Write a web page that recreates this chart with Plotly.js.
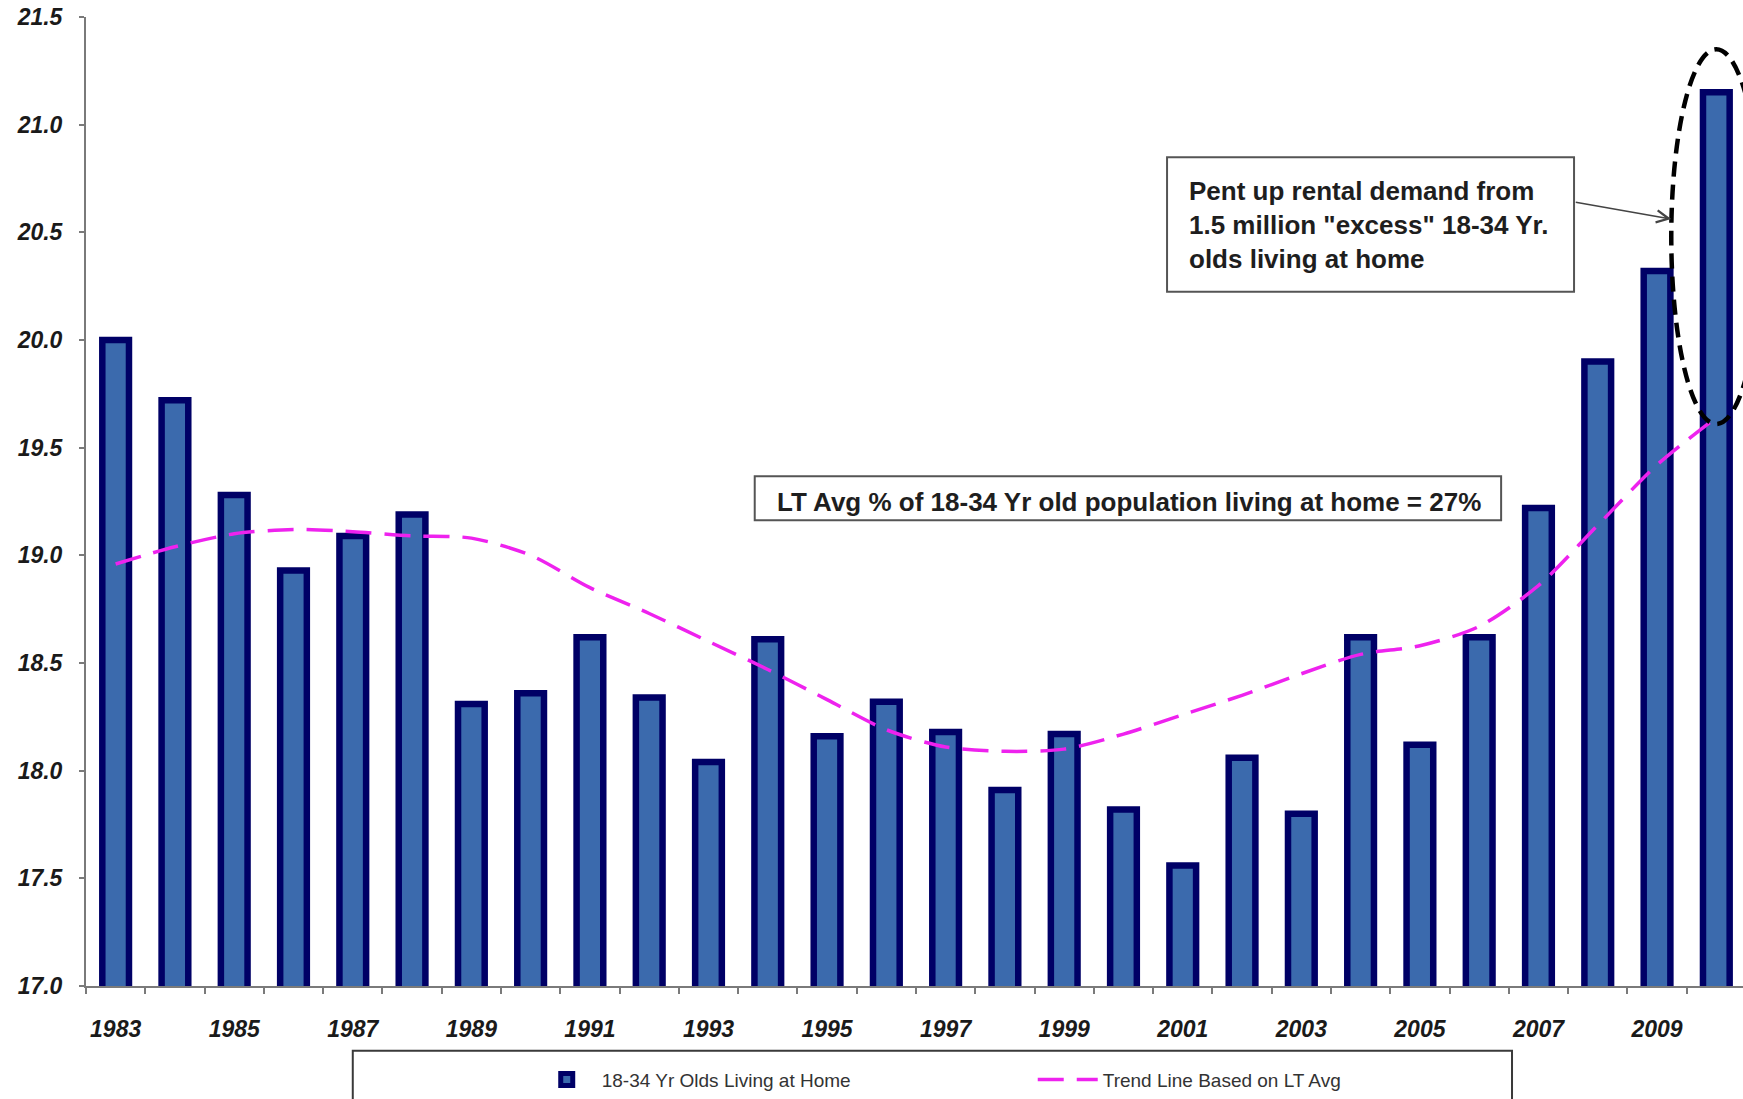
<!DOCTYPE html>
<html>
<head>
<meta charset="utf-8">
<script src="https://cdn.plot.ly/plotly-3.0.1.min.js"></script>
<style>html,body{margin:0;padding:0;background:#ffffff;}</style>
</head>
<body>
<div id="chart" style="width:1743px;height:1099px;"></div>
<script>
// ---- data ----
const years = [1983,1984,1985,1986,1987,1988,1989,1990,1991,1992,1993,1994,1995,1996,
               1997,1998,1999,2000,2001,2002,2003,2004,2005,2006,2007,2008,2009,2010];
const livingAtHome = [20.00,19.72,19.28,18.93,19.09,19.19,18.31,18.36,18.62,18.34,18.04,18.61,18.16,18.32,
                      18.18,17.91,18.17,17.82,17.56,18.06,17.80,18.62,18.12,18.62,19.22,19.90,20.32,21.15];
const trendLine = [18.96,19.04,19.10,19.12,19.11,19.09,19.08,19.00,18.85,18.73,18.60,18.47,18.33,18.19,
                   18.11,18.09,18.10,18.17,18.26,18.35,18.45,18.54,18.58,18.67,18.86,19.14,19.42,19.64];
const tickYears = years.filter(y => y % 2 === 1);
const tickLabels = tickYears.map(String);
const yTicks = [17.0,17.5,18.0,18.5,19.0,19.5,20.0,20.5,21.0,21.5];
const barName = "18-34 Yr Olds Living at Home";
const trendName = "Trend Line Based on LT Avg";
const noteText = "Pent up rental demand from<br>1.5 million \"excess\" 18-34 Yr.<br>olds living at home";
const avgText = "LT Avg % of 18-34 Yr old population living at home = 27%";

const boundaries = years.map(y => y - 0.5).concat([years[years.length-1] + 0.5]);

const axisFont = {family: "Liberation Sans, Arial, sans-serif", size: 23, color: "#1a1a1a", weight: "bold", style: "italic"};
const noteFont = {family: "Liberation Sans, Arial, sans-serif", size: 26, color: "#1e1e1e", weight: "bold"};

const traces = [
  {
    type: "bar", x: years, y: livingAtHome, name: barName,
    width: 0.45,
    marker: {color: "#3b6aad", line: {color: "#000066", width: 6.5}},
    hoverinfo: "skip"
  },
  {
    type: "scatter", mode: "lines", x: years, y: trendLine, name: trendName,
    line: {color: "#ee22ee", width: 3.5, dash: "26px,13px", shape: "spline", smoothing: 0.8},
    hoverinfo: "skip"
  }
];

const layout = {
  width: 1743, height: 1099,
  margin: {l: 86, r: 0, t: 17, b: 110, pad: 0},
  paper_bgcolor: "#ffffff", plot_bgcolor: "#ffffff",
  showlegend: true,
  xaxis: {
    range: [1982.5, 2010.45],
    tickmode: "array", tickvals: tickYears, ticktext: tickLabels,
    ticks: "", tickfont: axisFont, ticklabelstandoff: 21,
    showline: true, linecolor: "#7a7a7a", linewidth: 2,
    showgrid: false, zeroline: false, fixedrange: true,
    minor: {tickmode: "array", tickvals: boundaries, ticks: "outside", ticklen: 6, tickwidth: 2, tickcolor: "#7a7a7a", showgrid: false}
  },
  yaxis: {
    range: [17.0, 21.5],
    tickmode: "array", tickvals: yTicks, tickformat: ".1f",
    ticks: "outside", ticklen: 5, tickwidth: 2, tickcolor: "#7a7a7a",
    tickfont: axisFont, ticklabelstandoff: 12,
    showline: true, linecolor: "#7a7a7a", linewidth: 2,
    showgrid: false, zeroline: false, fixedrange: true
  },
  legend: {
    orientation: "h", x: 0.269, xanchor: "left", y: -0.077, yanchor: "top",
    font: {family: "Liberation Sans, Arial, sans-serif", size: 19, color: "#333333"},
    bgcolor: "rgba(0,0,0,0)", borderwidth: 0,
    itemwidth: 60, entrywidth: 426, entrywidthmode: "pixels"
  },
  shapes: [
    // legend frame
    {type: "rect", xref: "paper", yref: "paper", x0: 0.161, x1: 0.8606, y0: -0.0669, y1: -0.25,
     line: {color: "#3a3a3a", width: 2}, fillcolor: "rgba(0,0,0,0)", layer: "below"},
    // annotation boxes
    {type: "rect", xref: "x", yref: "y", x0: 2000.735, x1: 2007.60, y0: 20.224, y1: 20.849,
     line: {color: "#555555", width: 2}, fillcolor: "#ffffff", layer: "above"},
    {type: "rect", xref: "x", yref: "y", x0: 1993.78, x1: 2006.37, y0: 19.163, y1: 19.367,
     line: {color: "#555555", width: 2}, fillcolor: "#ffffff", layer: "above"},
    // dashed ellipse around 2010
    {type: "circle", xref: "x", yref: "y", x0: 2009.24, x1: 2010.76, y0: 19.61, y1: 21.35,
     line: {color: "#000000", width: 4.5, dash: "15px,8px"}, fillcolor: "rgba(0,0,0,0)", layer: "above"}
  ],
  annotations: [
    {xref: "x", yref: "y", x: 2001.07, y: 20.536, xanchor: "left", yanchor: "middle", align: "left",
     text: noteText, showarrow: false, font: noteFont},
    {xref: "x", yref: "y", x: 2000.085, y: 19.25, xanchor: "center", yanchor: "middle",
     text: avgText, showarrow: false, font: noteFont},
    {xref: "x", yref: "y", x: 2009.24, y: 20.562, ax: -97, ay: -17, text: "",
     showarrow: true, arrowhead: 5, arrowsize: 1.6, arrowwidth: 1.5, arrowcolor: "#444444"}
  ]
};

Plotly.newPlot("chart", traces, layout, {displayModeBar: false, staticPlot: true});
</script>
</body>
</html>
